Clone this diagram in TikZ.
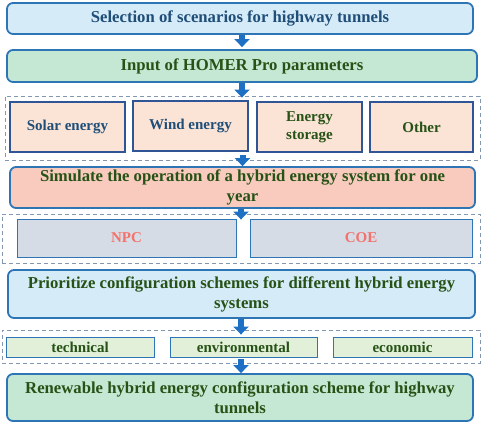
\documentclass[tikz,border=0pt]{standalone}
\usepackage{fontspec}
\setmainfont{Liberation Serif}
\usetikzlibrary{arrows.meta}
\definecolor{edgeblue}{RGB}{46,117,182}
\definecolor{boxblue}{RGB}{47,85,151}
\definecolor{arrowblue}{RGB}{30,112,196}
\definecolor{dashgray}{RGB}{132,151,176}
\definecolor{skyfill}{RGB}{214,235,248}
\definecolor{mintfill}{RGB}{197,232,212}
\definecolor{peachfill}{RGB}{251,228,214}
\definecolor{salmonfill}{RGB}{248,203,190}
\definecolor{greyfill}{RGB}{214,220,229}
\definecolor{leaffill}{RGB}{226,240,217}
\definecolor{textgreen}{RGB}{38,82,22}
\definecolor{textblue}{RGB}{31,78,121}
\definecolor{textred}{RGB}{244,114,108}
\tikzset{
    stagebox/.style = {
        rectangle, rounded corners=6pt,
        draw=edgeblue, line width=1.8pt,
        align=center, inner sep=0pt,
        text=textgreen,
        font=\fontsize{16.7}{20}\selectfont\bfseries
    },
    itembox/.style = {
        rectangle, draw=boxblue, line width=1.3pt,
        align=center, inner sep=0pt,
        text=textgreen,
        font=\fontsize{15}{17.5}\selectfont\bfseries
    },
    dashframe/.style = {
        rectangle, draw=dashgray, line width=0.9pt,
        dash pattern=on 4pt off 3pt
    },
    arrow/.style = {
        line width=6pt, draw=arrowblue,
        -{Triangle[width=15pt,length=8pt]}
    }
}

\begin{document}
\begin{tikzpicture}[x=1pt, y=-1pt]
\useasboundingbox (0,0) rectangle (484,423);

\node (select) [stagebox, fill=skyfill, text=textblue, minimum width=466pt, minimum height=31pt] at (240,18.5) {Selection of scenarios for highway tunnels};
\node (homer) [stagebox, fill=mintfill, minimum width=470pt, minimum height=32pt] at (242,66) {Input of HOMER Pro parameters};

% input groups
\node (inputs) [dashframe, minimum width=475pt, minimum height=64pt] at (242.5,128) {};
\node (solar) [itembox, fill=peachfill, text=textblue, minimum width=115pt, minimum height=50pt] at (67.5,127) {Solar energy};
\node (wind) [itembox, fill=peachfill, text=textblue, minimum width=115pt, minimum height=50pt] at (190.5,126) {Wind energy};
\node (storage) [itembox, fill=peachfill, minimum width=105pt, minimum height=50pt] at (309.5,127) {Energy\\storage};
\node (other) [itembox, fill=peachfill, minimum width=103pt, minimum height=50pt] at (421.5,127) {Other};

\node (simulate) [stagebox, fill=salmonfill, minimum width=465pt, minimum height=41pt] at (242.5,187.5) {Simulate the operation of a hybrid energy system for one\\year};

% economic indicators
\node (metrics) [dashframe, minimum width=478pt, minimum height=49pt] at (241,238.5) {};
\node (npc) [itembox, draw=edgeblue, fill=greyfill, text=textred, line width=1pt, minimum width=219pt, minimum height=38pt] at (126.5,238) {NPC};
\node (coe) [itembox, draw=edgeblue, fill=greyfill, text=textred, line width=1pt, minimum width=222pt, minimum height=38pt] at (361,238) {COE};

\node (rank) [stagebox, fill=skyfill, minimum width=467pt, minimum height=48pt] at (241.5,294) {Prioritize configuration schemes for different hybrid energy\\systems};

% evaluation criteria
\node (criteria) [dashframe, minimum width=478pt, minimum height=33pt] at (241,346.5) {};
\node (tech) [itembox, draw=edgeblue, fill=leaffill, line width=1pt, minimum width=148pt, minimum height=20pt] at (80,347) {technical};
\node (env) [itembox, draw=edgeblue, fill=leaffill, line width=1pt, minimum width=147pt, minimum height=20pt] at (243.5,347) {environmental};
\node (eco) [itembox, draw=edgeblue, fill=leaffill, line width=1pt, minimum width=139pt, minimum height=20pt] at (402.5,347) {economic};

\node (final) [stagebox, fill=mintfill, minimum width=466pt, minimum height=47pt] at (240,397.5) {Renewable hybrid energy configuration scheme for highway\\tunnels};

\draw [arrow] (select.south -| homer.north) -- ([yshift=2pt]homer.north);
\draw [arrow] (homer.south) -- ([yshift=-2pt]homer.south |- inputs.north);
\draw [arrow] ([yshift=5pt]inputs.south) -- (simulate.north);
\draw [arrow] (simulate.south -| metrics.north) -- ([yshift=-6pt]metrics.north);
\draw [arrow] (rank.south -| criteria.north) -- ([yshift=-5pt]criteria.north);
\draw [arrow] ([yshift=4pt]criteria.south) -- (criteria.south |- final.north);

\end{tikzpicture}
\end{document}
